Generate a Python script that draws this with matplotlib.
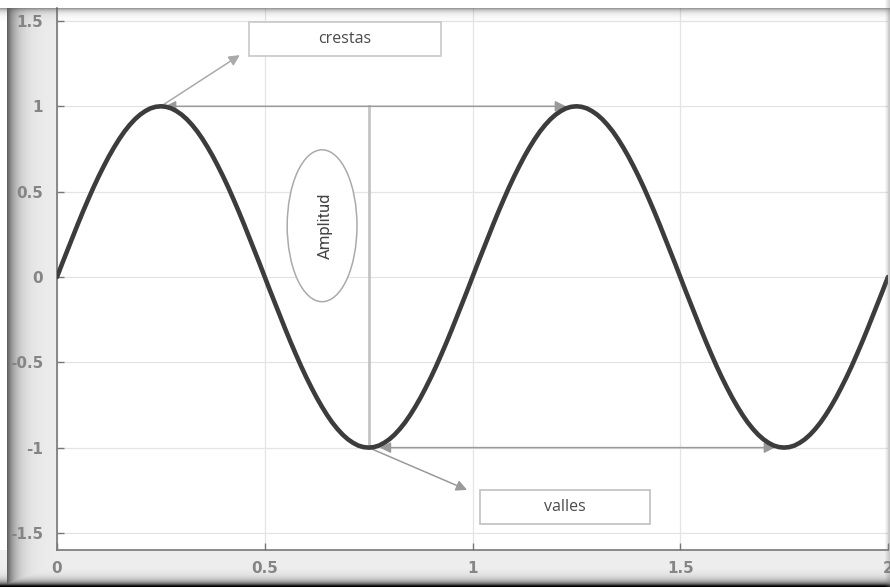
import numpy as np
import matplotlib.pyplot as plt
from matplotlib.patches import Ellipse, Rectangle

# sampled wave, step 0.0125 from 0 to 2
x_start, x_step = 0.0, 0.0125
wave_y = [
    0.000, 0.079, 0.156, 0.233, 0.309, 0.383, 0.454, 0.523, 0.588, 0.649,
    0.707, 0.760, 0.809, 0.853, 0.891, 0.924, 0.951, 0.972, 0.988, 0.997,
    1.000, 0.997, 0.988, 0.972, 0.951, 0.924, 0.891, 0.853, 0.809, 0.760,
    0.707, 0.649, 0.588, 0.523, 0.454, 0.383, 0.309, 0.233, 0.156, 0.079,
    0.000, -0.079, -0.156, -0.233, -0.309, -0.383, -0.454, -0.523, -0.588, -0.649,
    -0.707, -0.760, -0.809, -0.853, -0.891, -0.924, -0.951, -0.972, -0.988, -0.997,
    -1.000, -0.997, -0.988, -0.972, -0.951, -0.924, -0.891, -0.853, -0.809, -0.760,
    -0.707, -0.649, -0.588, -0.523, -0.454, -0.383, -0.309, -0.233, -0.156, -0.079,
    0.000, 0.079, 0.156, 0.233, 0.309, 0.383, 0.454, 0.523, 0.588, 0.649,
    0.707, 0.760, 0.809, 0.853, 0.891, 0.924, 0.951, 0.972, 0.988, 0.997,
    1.000, 0.997, 0.988, 0.972, 0.951, 0.924, 0.891, 0.853, 0.809, 0.760,
    0.707, 0.649, 0.588, 0.523, 0.454, 0.383, 0.309, 0.233, 0.156, 0.079,
    0.000, -0.079, -0.156, -0.233, -0.309, -0.383, -0.454, -0.523, -0.588, -0.649,
    -0.707, -0.760, -0.809, -0.853, -0.891, -0.924, -0.951, -0.972, -0.988, -0.997,
    -1.000, -0.997, -0.988, -0.972, -0.951, -0.924, -0.891, -0.853, -0.809, -0.760,
    -0.707, -0.649, -0.588, -0.523, -0.454, -0.383, -0.309, -0.233, -0.156, -0.079,
    0.000]
wave_x = x_start + x_step * np.arange(len(wave_y))

x_ticks = [0, 0.5, 1, 1.5, 2]
x_labels = ["0", "0.5", "1", "1.5", "2"]
y_ticks = [-1.5, -1, -0.5, 0, 0.5, 1, 1.5]
y_labels = ["-1.5", "-1", "-0.5", "0", "0.5", "1", "1.5"]

crest_x = [0.25, 1.25]
trough_x = [0.75, 1.75]

W, H = 890, 587
fig = plt.figure(figsize=(W / 100, H / 100), dpi=100)

# background with the shaded frame of the screenshot
bg = fig.add_axes([0, 0, 1, 1], zorder=-10)
img = np.full((H, W), 0.93)
cols = np.arange(W)
left_shade = np.where(cols < 7, 1.0, 0.93 - 0.55 * np.exp(-(cols - 7) / 9.0))
left_shade = np.clip(left_shade, 0, 1)
img[:, :56] = left_shade[None, :56]
rows = np.arange(H)
bottom_shade = np.clip(0.94 - 0.5 * np.exp(-(H - 4 - rows) / 4.0), 0, 1)
img[550:, :] = np.minimum(img[550:, :], bottom_shade[550:, None])
img[:8, :] = 1.0
bg.imshow(np.dstack([img] * 3), aspect="auto", extent=[0, 1, 0, 1])
bg.axis("off")

ax = fig.add_axes([57 / W, 1 - 550 / H, (888 - 57) / W, (550 - 8) / H])
ax.set_facecolor("white")
ax.set_xlim(0, 2)
ax.set_ylim(-1.6, 1.576)

ax.grid(True, color="#e4e4e4", lw=0.9)
ax.set_axisbelow(True)
ax.set_xticks(x_ticks)
ax.set_xticklabels(x_labels)
ax.set_yticks(y_ticks)
ax.set_yticklabels(y_labels)
ax.tick_params(direction="in", length=5, width=1, color="#777",
               labelcolor="#858585", labelsize=11)
for lab in ax.get_xticklabels() + ax.get_yticklabels():
    lab.set_fontweight("bold")
ax.tick_params(axis="x", pad=8)
ax.tick_params(axis="y", pad=10)
for s in ["top", "right"]:
    ax.spines[s].set_visible(False)
for s in ["left", "bottom"]:
    ax.spines[s].set_color("#777")
    ax.spines[s].set_linewidth(1.2)

ax.plot(wave_x, wave_y, color="#3c3c3c", lw=3.3, solid_capstyle="round",
        solid_joinstyle="round", zorder=5)

arrow_c = "#9a9a9a"
# vertical amplitude line
ax.plot([trough_x[0], trough_x[0]], [1, -1], color="#c4c4c4", lw=2, zorder=3)

# horizontal period arrows
ax.annotate("", xy=(crest_x[1] - 0.025, 1), xytext=(crest_x[0] + 0.01, 1),
            arrowprops=dict(arrowstyle="<|-|>", color=arrow_c, lw=1.1,
                            mutation_scale=16, shrinkA=0, shrinkB=0), zorder=4)
ax.annotate("", xy=(trough_x[1] - 0.022, -1), xytext=(trough_x[0] + 0.027, -1),
            arrowprops=dict(arrowstyle="<|-|>", color=arrow_c, lw=1.1,
                            mutation_scale=16, shrinkA=0, shrinkB=0), zorder=4)

# pointer arrows to the labels
ax.annotate("", xy=(0.44, 1.30), xytext=(crest_x[0], 1),
            arrowprops=dict(arrowstyle="-|>", color="#aaaaaa", lw=1.1,
                            mutation_scale=16, shrinkA=0, shrinkB=0), zorder=4)
ax.annotate("", xy=(0.987, -1.248), xytext=(trough_x[0], -1),
            arrowprops=dict(arrowstyle="-|>", color=arrow_c, lw=1.1,
                            mutation_scale=16, shrinkA=0, shrinkB=0), zorder=4)

# label boxes
ax.add_patch(Rectangle((0.462, 1.295), 0.462, 0.199, facecolor="white",
                       edgecolor="#c8c8c8", lw=1.2, zorder=6))
ax.text(0.693, 1.394, "crestas", ha="center", va="center", fontsize=11.5,
        color="#4a4a4a", family="Open Sans", zorder=7)
ax.add_patch(Rectangle((1.018, -1.447), 0.409, 0.199, facecolor="white",
                       edgecolor="#c0c0c0", lw=1.2, zorder=6))
ax.text(1.223, -1.347, "valles", ha="center", va="center", fontsize=11.5,
        color="#4a4a4a", family="Open Sans", zorder=7)

ax.add_patch(Ellipse((0.638, 0.30), 0.168, 0.89, facecolor="white",
                     edgecolor="#aaaaaa", lw=1.1, zorder=6))
ax.text(0.645, 0.30, "Amplitud", rotation=90, ha="center", va="center",
        fontsize=12, color="#444444", family="Roboto", zorder=7)

# shaded top edge and right edge of the screenshot frame
top = fig.add_axes([0, 1 - 22 / H, 1, 14 / H], zorder=20)
t = np.linspace(0, 1, 14)
alpha = 0.6 * np.exp(-t * 4)
rgba = np.zeros((14, W, 4))
rgba[..., :3] = 0.35
rgba[..., 3] = alpha[:, None]
top.imshow(rgba, aspect="auto", extent=[0, 1, 0, 1])
top.axis("off")
right = fig.add_axes([884 / W, 0, 6 / W, 1], zorder=20)
r = np.linspace(0, 1, 6)
rgba2 = np.zeros((H, 6, 4))
rgba2[..., :3] = 0.5
rgba2[..., 3] = (0.35 * r)[None, :]
right.imshow(rgba2, aspect="auto", extent=[0, 1, 0, 1])
right.axis("off")

fig.savefig("out.png", dpi=100)
